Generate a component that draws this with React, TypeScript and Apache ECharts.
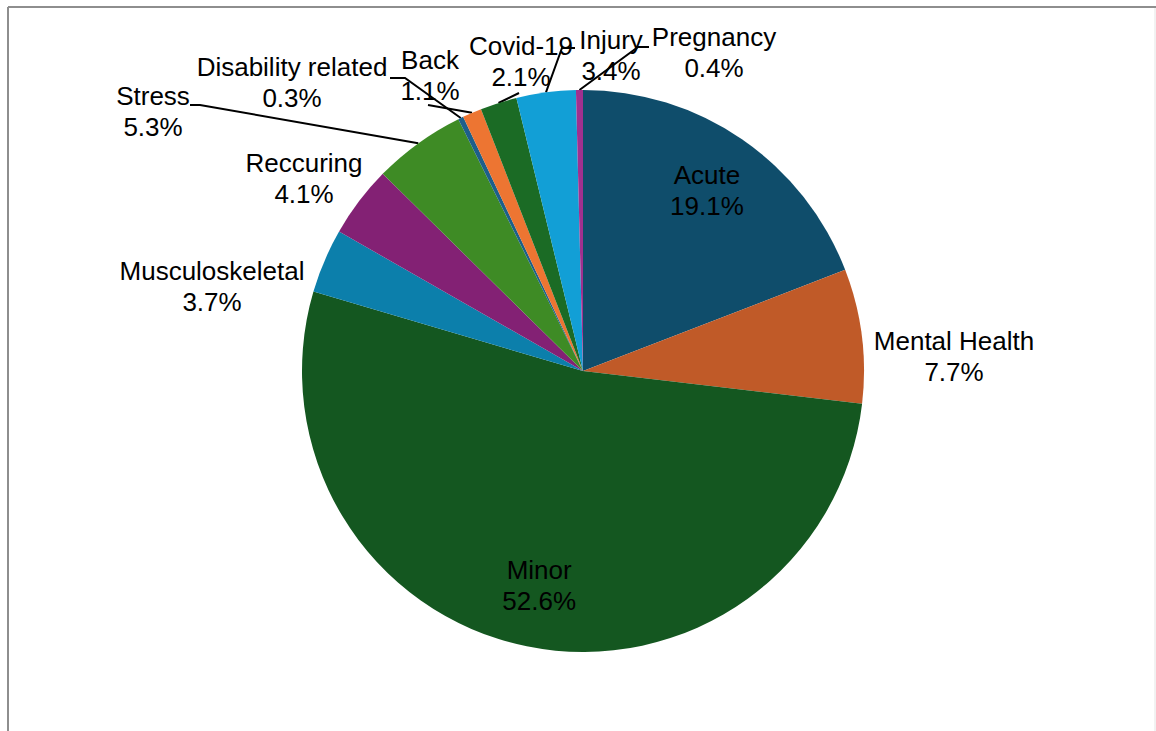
import React, { useEffect, useRef } from "react";
import * as echarts from "echarts";

const categories = [
  "Acute",
  "Mental Health",
  "Minor",
  "Musculoskeletal",
  "Reccuring",
  "Stress",
  "Disability related",
  "Back",
  "Covid-19",
  "Injury",
  "Pregnancy",
];
const values = [19.1, 7.7, 52.6, 3.7, 4.1, 5.3, 0.3, 1.1, 2.1, 3.4, 0.4];
const colors = [
  "#0f4d6b",
  "#c05a28",
  "#145720",
  "#0c7fab",
  "#832174",
  "#3e8b25",
  "#1d5f8a",
  "#ed7532",
  "#1b6b25",
  "#129fd6",
  "#a0308f",
];

// layout of labels (text block centres) and leader-line bends
const CX = 583;
const CY = 371;
const R = 281;
const insideLabels: Record<number, number> = { 0: 0.78, 2: 0.78 };
const labelPos: Record<number, [number, number]> = {
  1: [954, 356],
  3: [212, 286],
  4: [304, 178],
  5: [153, 111],
  6: [292, 82],
  7: [430, 75],
  8: [521, 61],
  9: [611, 55],
  10: [714, 52],
};
const leaderBends: Record<number, [number, number][]> = {
  5: [[200, 105], [190, 105]],
  6: [[405, 78], [390, 78]],
  7: [[428, 105], [428, 105]],
  8: [[519, 93], [519, 93]],
  9: [[562, 48], [575, 48]],
  10: [[638, 47], [649, 47]],
};

function midAngle(i: number): number {
  const total = values.reduce((a, b) => a + b, 0);
  let cum = 0;
  for (let k = 0; k < i; k++) cum += values[k];
  const frac = (cum + values[i] / 2) / total;
  return frac * 2 * Math.PI; // clockwise from 12 o'clock
}
function pointAt(i: number, r: number): [number, number] {
  const a = midAngle(i);
  return [CX + r * Math.sin(a), CY - r * Math.cos(a)];
}

export default function App() {
  const ref = useRef<HTMLDivElement>(null);
  useEffect(() => {
    if (!ref.current) return;
    const chart = echarts.init(ref.current, undefined, { renderer: "svg" });
    const data = categories.map((name, i) => ({
      name,
      value: values[i],
      itemStyle: { color: colors[i] },
      labelLine: { show: !!leaderBends[i] },
    }));
    chart.setOption({
      animation: false,
      backgroundColor: "#ffffff",
      graphic: [
        {
          type: "line",
          shape: { x1: 8, y1: 7, x2: 1156, y2: 7 },
          style: { stroke: "#8e8e8e", lineWidth: 2 },
          silent: true,
        },
        {
          type: "line",
          shape: { x1: 8, y1: 7, x2: 8, y2: 731 },
          style: { stroke: "#8e8e8e", lineWidth: 2 },
          silent: true,
        },
        {
          type: "line",
          shape: { x1: 1155, y1: 8, x2: 1155, y2: 731 },
          style: { stroke: "#e4e4e4", lineWidth: 1 },
          silent: true,
        },
      ],
      series: [
        {
          type: "pie",
          center: [CX, CY],
          radius: R,
          startAngle: 90,
          clockwise: true,
          avoidLabelOverlap: false,
          data,
          itemStyle: { borderWidth: 0 },
          label: {
            show: true,
            position: "outside",
            color: "#000000",
            fontFamily: "'Liberation Sans', Arial, sans-serif",
            fontSize: 26,
            lineHeight: 31,
            align: "center",
            formatter: (p: any) => `${p.name}\n${Number(p.value).toFixed(1)}%`,
          },
          labelLine: {
            show: true,
            lineStyle: { color: "#000000", width: 2 },
          },
          labelLayout: (params: any) => {
            const i = params.dataIndex;
            let x: number, y: number;
            if (insideLabels[i] !== undefined) {
              [x, y] = pointAt(i, R * insideLabels[i]);
            } else {
              [x, y] = labelPos[i];
            }
            const res: any = { x, y, align: "center", verticalAlign: "middle" };
            if (leaderBends[i]) {
              res.labelLinePoints = [pointAt(i, R), ...leaderBends[i]];
            }
            return res;
          },
        },
      ],
    });
    return () => chart.dispose();
  }, []);
  return (
    <div
      ref={ref}
      style={{ position: "absolute", left: 0, top: 0, width: 1156, height: 731 }}
    />
  );
}
